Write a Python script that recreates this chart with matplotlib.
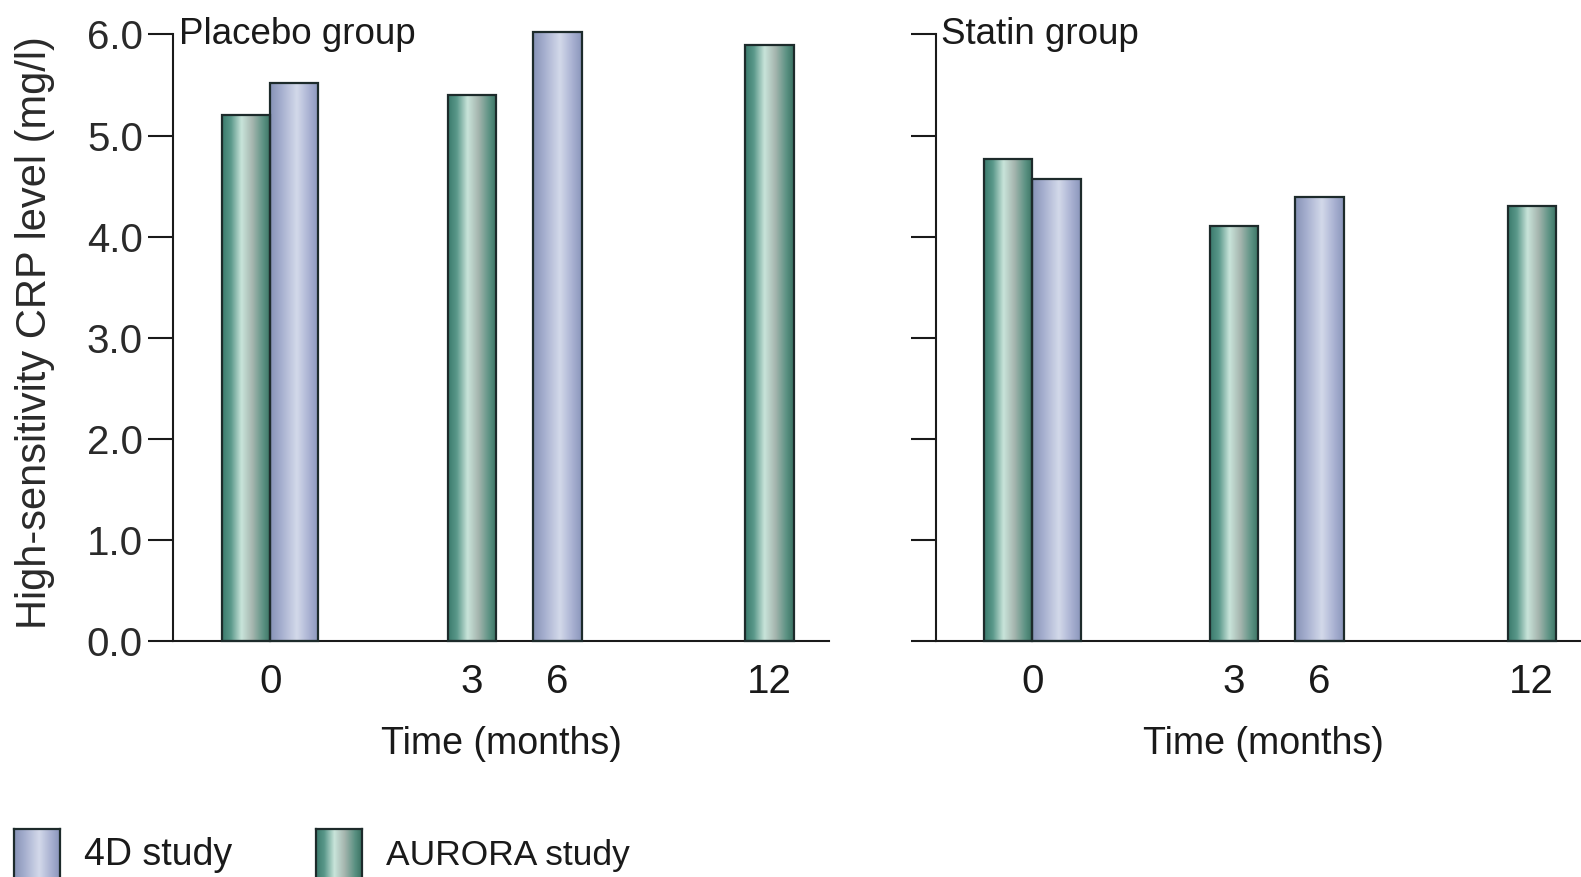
import numpy as np
import matplotlib
matplotlib.use("Agg")
import matplotlib.pyplot as plt
from matplotlib.colors import LinearSegmentedColormap

# Time points (months) and their slot positions along the x axis
time_labels = ["0", "3", "6", "12"]
time_slots = [0.0, 4.17, 5.94, 10.33]

# High-sensitivity CRP (mg/l): AURORA measured at 0, 3, 12 months; 4D at 0, 6 months
placebo_aurora = [5.20, 5.40, 5.90]
placebo_4d = [5.52, 6.02]
statin_aurora = [4.77, 4.10, 4.30]
statin_4d = [4.57, 4.39]
aurora_times = ["0", "3", "12"]
fourd_times = ["0", "6"]

panel_titles = ["Placebo group", "Statin group"]
y_ticks = [0, 1, 2, 3, 4, 5, 6]

aurora_cmap = LinearSegmentedColormap.from_list(
    "aurora", [(0.0, "#3a7a6c"), (0.18, "#5a988a"), (0.40, "#c9e4da"),
               (0.62, "#a6b6af"), (0.85, "#5a9182"), (1.0, "#3a7262")])
fourd_cmap = LinearSegmentedColormap.from_list(
    "fourd", [(0.0, "#8692b6"), (0.25, "#a8b1d0"), (0.55, "#d3d9ea"),
              (0.80, "#aab2d2"), (1.0, "#8a95bb")])

EDGE = "#1d2b2b"
TEXT = "#1a1a1a"
SANS = ["Liberation Sans", "DejaVu Sans"]

fig = plt.figure(figsize=(15.81, 8.77), dpi=100)
fig.patch.set_facecolor("white")

W = 0.4147
axes_boxes = [[0.1097, 0.2691, W, 0.7032], [0.5918, 0.2691, W, 0.7032]]
BW = 1.0


def gradient_bar(ax, left, h, cmap):
    bars = ax.bar([left], [h], width=BW, align="edge", facecolor="none",
                  edgecolor=EDGE, linewidth=1.6, zorder=3, clip_on=False)
    rect = bars.patches[0]
    grad = np.linspace(0, 1, 256).reshape(1, -1)
    im = ax.imshow(grad, cmap=cmap, aspect="auto", interpolation="bicubic",
                   extent=(left, left + BW, 0, h), zorder=2, clip_on=False)
    im.set_clip_path(rect)


def slot(t):
    return time_slots[time_labels.index(t)]


for i, (box, title, aur, fd) in enumerate(zip(
        axes_boxes, panel_titles,
        [placebo_aurora, statin_aurora], [placebo_4d, statin_4d])):
    ax = fig.add_axes(box)
    # At month 0 both studies sit side by side; elsewhere a single centred bar
    for t, v in zip(aurora_times, aur):
        left = slot(t) - BW if t == "0" else slot(t) - BW / 2
        gradient_bar(ax, left, v, aurora_cmap)
    for t, v in zip(fourd_times, fd):
        left = slot(t) if t == "0" else slot(t) - BW / 2
        gradient_bar(ax, left, v, fourd_cmap)

    ax.set_xlim(-2.0, 11.56)
    ax.set_ylim(0, 6.1)
    for s in ["top", "right"]:
        ax.spines[s].set_visible(False)
    ax.spines["left"].set_bounds(0, 6)
    for s in ["left", "bottom"]:
        ax.spines[s].set_linewidth(1.5)
        ax.spines[s].set_color(TEXT)
    ax.set_yticks(y_ticks)
    ax.tick_params(axis="y", length=18, width=1.5, color=TEXT, pad=4)
    ax.set_xticks(time_slots)
    ax.set_xticklabels(time_labels, fontfamily=SANS, fontsize=29, color=TEXT)
    ax.tick_params(axis="x", length=0, pad=16)
    if i == 0:
        ax.set_yticklabels([f"{v:.1f}" for v in y_ticks], fontfamily=SANS,
                           fontsize=29, color="#2a2a2a")
        ax.set_ylabel("High-sensitivity CRP level (mg/l)", fontfamily=SANS,
                      fontsize=30, color="#2a2a2a")
        ax.yaxis.set_label_coords(-0.181, 0.5)
    else:
        ax.set_yticklabels([])
    ax.set_xlabel("Time (months)", fontfamily=SANS, fontsize=27,
                  color=TEXT, labelpad=18)
    ax.text(0.008, 6.0, title, transform=ax.get_yaxis_transform(),
            fontfamily=SANS, fontsize=26.5, color=TEXT, va="center",
            ha="left")
    ax.set_facecolor("none")

# Legend with shaded swatches along the bottom edge
legend_items = [("4D study", fourd_cmap, 0.009, 27), ("AURORA study", aurora_cmap, 0.200, 25.5)]
for label, cmap, x0, fs in legend_items:
    lax = fig.add_axes([x0, -0.02, 0.029, 0.0747])
    lax.imshow(np.linspace(0, 1, 256).reshape(1, -1), cmap=cmap,
               aspect="auto", extent=(0, 1, 0, 1))
    lax.set_xticks([])
    lax.set_yticks([])
    for s in lax.spines.values():
        s.set_color(EDGE)
        s.set_linewidth(1.6)
    fig.text(x0 + 0.044, 0.025, label, fontfamily=SANS, fontsize=fs,
             color=TEXT, va="center", ha="left")

fig.savefig("out.png", dpi=100, facecolor="white")
